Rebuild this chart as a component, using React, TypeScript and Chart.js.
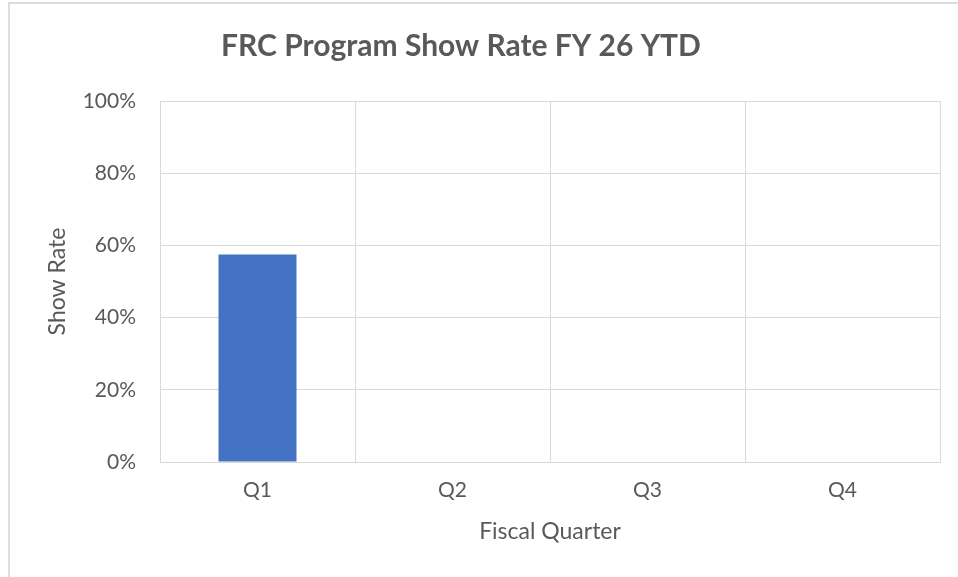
import React, { useEffect, useRef } from "react";
import { Chart, registerables } from "chart.js";

Chart.register(...registerables);

const categories = ["Q1", "Q2", "Q3", "Q4"];
const showRate = [0.575, null, null, null];
const yTicks = [0, 0.2, 0.4, 0.6, 0.8, 1.0];
const chartTitle = "FRC Program Show Rate FY 26 YTD";

const FONT = "Lato, 'Open Sans', sans-serif";
const TEXT = "#595959";
const GRID = "#d9d9d9";

const titlePlugin = {
  id: "customTitle",
  afterDraw(chart: any) {
    const ctx = chart.ctx;
    ctx.save();
    ctx.font = `bold 30px ${FONT}`;
    ctx.fillStyle = TEXT;
    ctx.textAlign = "center";
    ctx.textBaseline = "middle";
    ctx.fillText(chartTitle, 461, 46);
    ctx.restore();
  },
};

export default function App() {
  const ref = useRef<HTMLCanvasElement | null>(null);

  useEffect(() => {
    if (!ref.current) return;
    const chart = new Chart(ref.current, {
      type: "bar",
      data: {
        labels: categories,
        datasets: [
          {
            label: "Show Rate",
            data: showRate as any,
            backgroundColor: "#4472C4",
            borderWidth: 0,
            barPercentage: 0.4,
            categoryPercentage: 1,
          },
        ],
      },
      plugins: [titlePlugin],
      options: {
        animation: false,
        responsive: false,
        maintainAspectRatio: false,
        layout: { padding: { left: 20, right: 18, top: 101, bottom: 0 } },
        plugins: {
          legend: { display: false },
          tooltip: { enabled: false },
          title: { display: false },
        },
        scales: {
          x: {
            grid: { color: GRID, lineWidth: 1, drawTicks: false, offset: true },
            border: { color: GRID, width: 1 },
            ticks: {
              color: TEXT,
              font: { family: FONT, size: 21 },
              padding: 16,
            },
            title: {
              display: true,
              text: "Fiscal Quarter",
              color: TEXT,
              font: { family: FONT, size: 23 },
              padding: { top: 0, bottom: 32 },
            },
            afterFit: (s: any) => {
              s.height = 115;
            },
          },
          y: {
            min: 0,
            max: 1,
            afterBuildTicks: (s: any) => {
              s.ticks = yTicks.map((v) => ({ value: v }));
            },
            grid: { color: GRID, lineWidth: 1, drawTicks: false },
            border: { color: GRID, width: 1 },
            ticks: {
              color: TEXT,
              font: { family: FONT, size: 21 },
              padding: 24,
              callback: (v: any) => Math.round(Number(v) * 100) + "%",
            },
            title: {
              display: true,
              text: "Show Rate",
              color: TEXT,
              font: { family: FONT, size: 23 },
              padding: { top: 24, bottom: 0 },
            },
            afterFit: (s: any) => {
              s.width = 140;
            },
          },
        },
      },
    });
    return () => chart.destroy();
  }, []);

  return (
    <div
      style={{
        position: "absolute",
        left: 0,
        top: 0,
        width: 958,
        height: 577,
        overflow: "hidden",
        background: "#fff",
      }}
    >
      <div
        style={{
          position: "absolute",
          left: 8,
          top: 2,
          width: 1000,
          height: 1000,
          border: "2px solid #dedede",
          boxSizing: "border-box",
        }}
      />
      <canvas
        ref={ref}
        width={958}
        height={577}
        style={{ position: "absolute", left: 0, top: 0, width: 958, height: 577 }}
      />
    </div>
  );
}
